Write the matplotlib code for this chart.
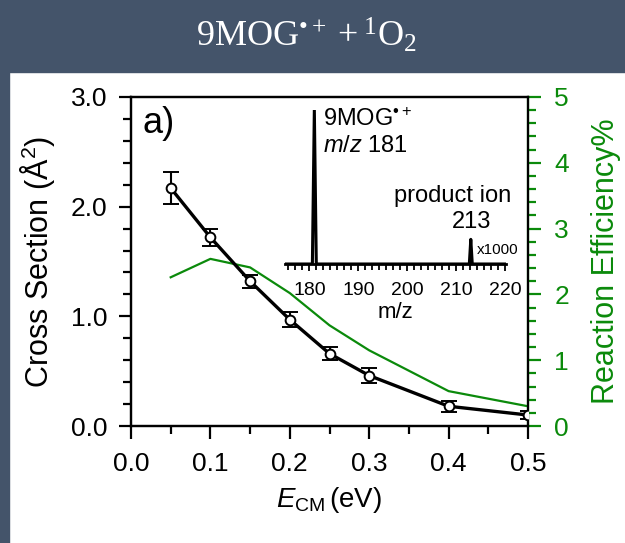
import numpy as np
import matplotlib
matplotlib.use("Agg")
import matplotlib.pyplot as plt
from matplotlib.patches import Rectangle
from matplotlib.ticker import MultipleLocator, AutoMinorLocator

plt.rcParams['font.family'] = ['Liberation Sans', 'DejaVu Sans']
plt.rcParams['mathtext.fontset'] = 'custom'
plt.rcParams['mathtext.rm'] = 'Liberation Sans'
plt.rcParams['mathtext.it'] = 'Liberation Sans:italic'
plt.rcParams['mathtext.bf'] = 'Liberation Sans:bold'

# cross section data (A^2) vs collision energy (eV)
e_cm = [0.05, 0.10, 0.15, 0.20, 0.25, 0.30, 0.40, 0.50]
cross_section = [2.17, 1.72, 1.32, 0.97, 0.66, 0.46, 0.18, 0.10]
cross_err = [0.15, 0.08, 0.06, 0.07, 0.06, 0.07, 0.05, 0.04]

# reaction efficiency (%)
efficiency = [2.26, 2.54, 2.41, 2.02, 1.53, 1.15, 0.53, 0.30]

# inset mass spectrum
ms_mz = [175.0, 180.6, 181.0, 181.4, 212.7, 213.0, 213.3, 220.0]
ms_int = [0.0, 0.0, 1.0, 0.0, 0.0, 0.16, 0.0, 0.0]

W, H = 625, 543
banner = '#44546A'
green = '#0B8A0B'


def fx(x):
    return x / W


def fy(y):
    return 1 - y / H


fig = plt.figure(figsize=(W / 100, H / 100), dpi=100)
fig.patches.append(Rectangle((0, fy(72)), 1, 72 / H, transform=fig.transFigure,
                             color=banner, zorder=0))
fig.patches.append(Rectangle((0, 0), fx(9), 1, transform=fig.transFigure,
                             color=banner, zorder=0))
fig.text(0.49, fy(36), '$\\mathregular{9MOG^{\u2022+} + {}^{1}O_{2}}$',
         color='white', fontsize=26, ha='center', va='center',
         family='Liberation Serif')

ax = fig.add_axes([fx(131), fy(426), fx(528 - 131), (426 - 97) / H])
ax.plot(e_cm, cross_section, color='black', lw=2.4, zorder=3)
ax.errorbar(e_cm, cross_section, yerr=cross_err, fmt='o', color='black', mfc='white',
            mec='black', ms=7, mew=1.4, elinewidth=1.5, capsize=6, capthick=1.5, zorder=4)
ax.set_xlim(0, 0.5)
ax.set_ylim(0, 3.0)
ax.xaxis.set_major_locator(MultipleLocator(0.1))
ax.xaxis.set_minor_locator(MultipleLocator(0.05))
ax.yaxis.set_major_locator(MultipleLocator(1.0))
ax.yaxis.set_minor_locator(MultipleLocator(0.2))
ax.xaxis.set_major_formatter(plt.FormatStrFormatter('%.1f'))
ax.yaxis.set_major_formatter(plt.FormatStrFormatter('%.1f'))
ax.tick_params(which='major', direction='out', length=9, width=1.6, labelsize=19, pad=8)
ax.tick_params(which='minor', direction='out', length=6, width=1.6)
ax.tick_params(axis='x', pad=10)
for s in ax.spines.values():
    s.set_linewidth(1.6)
ax.set_ylabel(r'Cross Section ($\mathrm{\AA}^{2}$)', fontsize=22, labelpad=10)
ax.set_xlabel(r'$E_{\mathrm{CM}}\,$(eV)', fontsize=20, labelpad=6)
ax.text(0.03, 0.92, 'a)', transform=ax.transAxes, fontsize=26, ha='left', va='center')

ax2 = ax.twinx()
ax2.plot(e_cm, efficiency, color=green, lw=1.6, zorder=2)
ax2.set_ylim(0, 5)
ax2.yaxis.set_major_locator(MultipleLocator(1))
ax2.yaxis.set_minor_locator(MultipleLocator(0.2))
ax2.tick_params(which='major', direction='out', length=9, width=1.6, labelsize=19,
                colors=green, pad=10)
ax2.tick_params(which='minor', direction='out', length=6, width=1.6, colors=green)
ax2.spines['right'].set_color(green)
for s in ax2.spines.values():
    s.set_linewidth(1.6)
ax2.set_ylabel('Reaction Efficiency%', fontsize=22, color=green, labelpad=16)
ax.set_zorder(ax2.get_zorder() + 1)
ax.patch.set_visible(False)

# inset mass spectrum
ins = fig.add_axes([fx(285), fy(264), fx(506 - 285), (264 - 110) / H])
ins.plot(ms_mz, ms_int, color='black', lw=2.2)
ins.set_xlim(175, 220.2)
ins.set_ylim(0, 1.0)
ins.patch.set_visible(False)
for k in ['left', 'right', 'top']:
    ins.spines[k].set_visible(False)
ins.spines['bottom'].set_linewidth(2)
ins.set_yticks([])
ins.xaxis.set_major_locator(MultipleLocator(10))
ins.xaxis.set_minor_locator(AutoMinorLocator(7))
ins.tick_params(which='major', direction='out', length=5, width=1.3, labelsize=14, pad=8)
ins.tick_params(which='minor', direction='out', length=4, width=1.3)
ins.set_xlabel('m/z', fontsize=16, labelpad=2)

fig.text(fx(323), fy(126), '9MOG$^{\u2022+}$', fontsize=17, ha='left', va='baseline')
fig.text(fx(323), fy(152), r'$m/z$ 181', fontsize=17, ha='left', va='baseline')
fig.text(fx(511), fy(202), 'product ion', fontsize=17, ha='right', va='baseline')
fig.text(fx(491), fy(228), '213', fontsize=17, ha='right', va='baseline')
fig.text(fx(477), fy(254), 'x1000', fontsize=11, ha='left', va='baseline')

fig.savefig('out.png', dpi=100)
